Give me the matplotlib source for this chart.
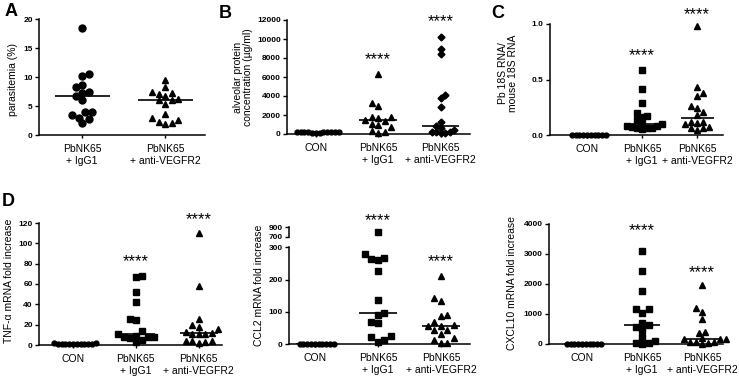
import matplotlib
matplotlib.use("Agg")
import matplotlib.pyplot as plt
import numpy as np

plt.rcParams["font.family"] = ["Liberation Sans", "DejaVu Sans"]

W, H = 739, 382

# ── Data ─────────────────────────────────────────────────────────────────────
CATS3 = ["CON", "PbNK65\n+ IgG1", "PbNK65\n+ anti-VEGFR2"]
CATS2 = ["PbNK65\n+ IgG1", "PbNK65\n+ anti-VEGFR2"]

# A: parasitemia (%)
A_IGG1 = [18.4, 10.1, 10.5, 8.6, 8.2, 7.3, 7.5, 6.8, 6.1, 3.9, 4.0, 3.0, 3.4, 2.8, 2.0]
A_ANTI = [9.4, 8.3, 7.4, 7.1, 7.2, 6.7, 6.0, 6.0, 6.2, 5.3, 3.6, 2.9, 2.3, 1.9, 2.0, 2.6]

# B: alveolar protein (µg/ml)
B_CON = [250, 220, 200, 180, 210, 150, 120, 240, 190, 230, 170, 60]
B_IGG1 = [6280, 3230, 2980, 1830, 1650, 1820, 1400, 1500, 1020, 950, 700, 320, 140, 180]
B_ANTI = [10250, 8980, 8390, 4100, 3830, 2840, 1230, 880, 600, 420, 250, 180, 140, 140, 210]

# C: Pb 18S / mouse 18S RNA
C_CON = [0.0] * 10
C_IGG1 = [0.585, 0.414, 0.291, 0.201, 0.165, 0.171, 0.135, 0.099, 0.099,
          0.081, 0.066, 0.075, 0.084, 0.051, 0.060, 0.060]
C_ANTI = [0.985, 0.435, 0.375, 0.354, 0.264, 0.240, 0.210, 0.180, 0.120,
          0.120, 0.105, 0.096, 0.060, 0.048, 0.060, 0.069]

# D: TNF-a / CCL2 / CXCL10 mRNA fold increase
TNF_CON = [1.0, 0.8, 1.2, 0.6, 1.5, 1.0, 0.5, 2.0, 1.1, 0.9, 0.7, 1.3]
TNF_IGG1 = [67.9, 66.9, 52.5, 42.6, 24.3, 25.6, 13.4, 10.5, 7.5, 7.2, 8.9, 7.5, 7.5, 4.9, 2.6]
TNF_ANTI = [109.8, 58.0, 25.6, 18.0, 19.3, 15.4, 12.1, 10.8, 10.5, 10.8, 13.1,
            4.3, 3.9, 1.6, 3.3, 3.9]

CCL2_CON = [1.0, 0.5, 1.5, 0.8, 1.2, 0.6, 1.0, 0.9, 1.1, 0.7]
CCL2_IGG1 = [795, 279, 264, 260, 266, 227, 137, 98, 91, 70, 65, 23, 25, 8, 13]
CCL2_ANTI = [211, 144, 133, 91, 87, 70, 60, 58, 58, 44, 44, 31, 19, 12, 5, 5]

CXCL_CON = [0.0] * 10
CXCL_IGG1 = [3106, 2436, 1754, 1151, 1173, 1039, 704, 637, 559, 469, 223, 112, 22, 0, 22]
CXCL_ANTI = [1978, 1196, 1061, 838, 391, 369, 201, 168, 168, 168, 56, 56, 0, 22, 56]

STARS = "****"
TICK_FS = 6
LABEL_FS = 7.5


def add_axes_px(fig, left, right, top, bottom):
    return fig.add_axes([left / W, 1 - bottom / H, (right - left) / W, (bottom - top) / H])


def style(ax, cats, xlim, ylim, yticks, ylabels=None):
    ax.set_xlim(*xlim)
    ax.set_ylim(*ylim)
    ax.spines[["top", "right"]].set_visible(False)
    for s in ("left", "bottom"):
        ax.spines[s].set_linewidth(1.1)
    ax.set_xticks(range(len(cats)))
    ax.set_xticklabels(cats, fontsize=LABEL_FS)
    ax.set_yticks(yticks)
    if ylabels is not None:
        ax.set_yticklabels(ylabels)
    ax.tick_params(axis="y", direction="out", length=3, width=1, labelsize=TICK_FS, pad=1.5)
    ax.tick_params(axis="x", direction="out", length=2.5, width=1, pad=4)
    for t in ax.get_yticklabels():
        t.set_fontweight("bold")


def swarm(ax, xc, vals, d_px):
    """Beeswarm-style layout: each point takes the nearest free slot to the centre."""
    vals = np.asarray(vals, float)
    ypx = ax.transData.transform(np.c_[np.zeros(len(vals)), vals])[:, 1]
    x0, x1 = ax.get_xlim()
    unit = (x1 - x0) / ax.get_window_extent().width
    step = d_px / 2
    placed = []
    xs = np.zeros(len(vals))
    side = 1
    for i in np.argsort(vals, kind="stable"):
        off = None
        k = 0
        while off is None:
            cands = [0.0] if k == 0 else [side * k * step, -side * k * step]
            for c in cands:
                if all((c - px) ** 2 + (ypx[i] - py) ** 2 >= (0.95 * d_px) ** 2
                       for px, py in placed):
                    off = c
                    break
            k += 1
        if off != 0:
            side = -np.sign(off)
        placed.append((off, ypx[i]))
        xs[i] = xc + off * unit
    return xs


def group(ax, xc, vals, marker, ms, d_px, half=0.3, median=True):
    xs = swarm(ax, xc, vals, d_px)
    ax.plot(xs, vals, ls="none", marker=marker, ms=ms, color="black",
            mec="black", clip_on=False, zorder=3)
    if median:
        ax.hlines(np.median(vals), xc - half, xc + half, color="black", lw=1.2, zorder=4)


def stars(ax, x, y):
    ax.text(x, y, STARS, ha="center", va="center", fontsize=12, clip_on=False)


def ylabel(x, y, text):
    fig.text(x / W, 1 - y / H, text, rotation=90, ha="center", va="center",
             fontsize=LABEL_FS, linespacing=1.1)


fig = plt.figure(figsize=(W / 100, H / 100), dpi=100, facecolor="white")

# ── A ────────────────────────────────────────────────────────────────────────
ax = add_axes_px(fig, 39, 205, 19, 135)
style(ax, CATS2, (-0.52, 1.48), (0, 20), [0, 5, 10, 15, 20])
group(ax, 0, A_IGG1, "o", 5, 6.5, half=0.33)
group(ax, 1, A_ANTI, "^", 5, 6.5, half=0.33)
ylabel(13, 80, "parasitemia (%)")

# ── B ────────────────────────────────────────────────────────────────────────
ax = add_axes_px(fig, 287, 470, 20, 134)
style(ax, CATS3, (-0.46, 2.47), (0, 12000), range(0, 12001, 2000))
group(ax, 0, B_CON, "o", 3.5, 3.8)
group(ax, 1, B_IGG1, "^", 5, 6.5)
group(ax, 2, B_ANTI, "D", 3.5, 4.5)
stars(ax, 1, 7800)
stars(ax, 2, 11800)
ylabel(243, 77, "alveolar protein\nconcentration (µg/ml)")

# ── C ────────────────────────────────────────────────────────────────────────
ax = add_axes_px(fig, 550, 723, 24, 135)
style(ax, CATS3, (-0.67, 2.47), (0, 1.0), [0, 0.5, 1.0], ["0.0", "0.5", "1.0"])
group(ax, 0, C_CON, "o", 3.5, 3.8)
group(ax, 1, C_IGG1, "s", 4.5, 5)
group(ax, 2, C_ANTI, "^", 5, 6)
stars(ax, 1, 0.715)
stars(ax, 2, 1.08)
ylabel(508, 73, "Pb 18S RNA/\nmouse 18S RNA")

# ── D: TNF-a ─────────────────────────────────────────────────────────────────
ax = add_axes_px(fig, 39, 222, 223, 345)
style(ax, CATS3, (-0.54, 2.37), (0, 120), range(0, 121, 20))
group(ax, 0, TNF_CON, "o", 3.5, 3.8)
group(ax, 1, TNF_IGG1, "s", 4.5, 6)
group(ax, 2, TNF_ANTI, "^", 5, 6.5)
stars(ax, 1, 82)
stars(ax, 2, 123)
ylabel(9, 281, "TNF-α mRNA fold increase")

# ── D: CCL2 (broken axis) ────────────────────────────────────────────────────
ax = add_axes_px(fig, 289, 470, 247.3, 344.3)
style(ax, CATS3, (-0.41, 2.46), (0, 300), [0, 100, 200, 300])
ax_up = add_axes_px(fig, 289, 470, 227.3, 236.7)
ax_up.set_xlim(ax.get_xlim())
ax_up.set_ylim(700, 900)
ax_up.spines[["top", "right", "bottom"]].set_visible(False)
ax_up.spines["left"].set_linewidth(1.1)
ax_up.set_xticks([])
ax_up.set_yticks([700, 900])
ax_up.tick_params(axis="y", direction="out", length=3, width=1, labelsize=TICK_FS, pad=1.5)
for t in ax_up.get_yticklabels():
    t.set_fontweight("bold")
ax_up.patch.set_visible(False)

low = [v for v in CCL2_IGG1 if v <= 300]
high = [v for v in CCL2_IGG1 if v > 300]
group(ax, 0, CCL2_CON, "o", 3.5, 3.8)
group(ax, 1, low, "s", 4.5, 6.5, median=False)
ax.hlines(np.median(CCL2_IGG1), 0.7, 1.3, color="black", lw=1.2, zorder=4)
group(ax_up, 1, high, "s", 4.5, 6.5, median=False)
group(ax, 2, CCL2_ANTI, "^", 5, 6.5)
stars(ax_up, 1, 1040)
stars(ax, 2, 256)
ylabel(259, 285, "CCL2 mRNA fold increase")

# ── D: CXCL10 ────────────────────────────────────────────────────────────────
ax = add_axes_px(fig, 549, 723, 224, 344)
style(ax, CATS3, (-0.55, 2.35), (0, 4000), range(0, 4001, 1000))
group(ax, 0, CXCL_CON, "o", 3.5, 3.8)
group(ax, 1, CXCL_IGG1, "s", 4.5, 6.5)
group(ax, 2, CXCL_ANTI, "^", 5, 6)
stars(ax, 1, 3765)
stars(ax, 2, 2380)
ylabel(512, 283, "CXCL10 mRNA fold increase")

# ── panel letters ────────────────────────────────────────────────────────────
for lbl, x, y in [("A", 11, 12), ("B", 225, 13), ("C", 498, 13), ("D", 8, 201)]:
    fig.text(x / W, 1 - y / H, lbl, ha="center", va="center", fontsize=13, fontweight="bold")

fig.savefig("out.png", dpi=100, facecolor="white")
